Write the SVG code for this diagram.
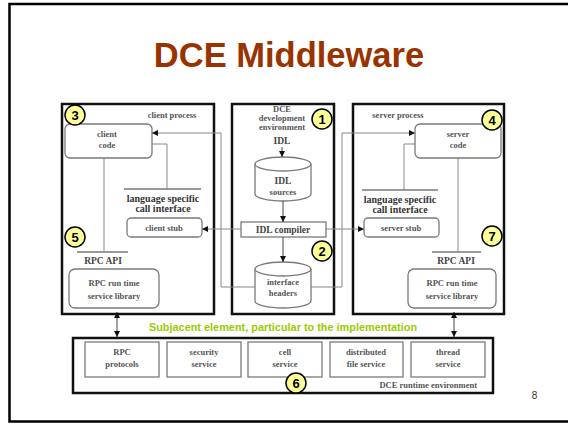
<svg xmlns="http://www.w3.org/2000/svg" width="568" height="424" viewBox="0 0 568 424">
  <defs>
    <marker id="tip" viewBox="0 0 6 6" refX="6" refY="3" markerWidth="6" markerHeight="6" orient="auto" markerUnits="userSpaceOnUse">
      <path d="M0,0 L6,3 L0,6 Z" fill="#111"/>
    </marker>
    <marker id="tail" viewBox="0 0 6 6" refX="0" refY="3" markerWidth="6" markerHeight="6" orient="auto" markerUnits="userSpaceOnUse">
      <path d="M6,0 L0,3 L6,6 Z" fill="#111"/>
    </marker>
    <style>
      .frame { fill: none; stroke: #000; stroke-width: 2.5; }
      .proc { fill: none; stroke: #111; stroke-width: 2.5; }
      .box { fill: #fff; stroke: #7a7a7a; stroke-width: 1.3; }
      .bar { stroke: #777; stroke-width: 1.3; }
      .wire { fill: none; stroke: #888; stroke-width: 1; }
      .link { fill: none; stroke: #444; stroke-width: 1; }
      .lbl { font-family: "Liberation Serif", "Times New Roman", serif; font-weight: bold; font-size: 8.5px; fill: #555; text-anchor: middle; }
      .big { font-size: 10px; fill: #333; }
      .mid { font-size: 9.5px; fill: #444; }
      .num circle { fill: #ffff99; stroke: #000; stroke-width: 1.5; }
      .num text { font-family: "Liberation Sans", Arial, sans-serif; font-weight: bold; font-size: 13px; fill: #000; text-anchor: middle; }
    </style>
  </defs>

  <!-- slide frame -->
  <rect class="frame" x="9.5" y="4" width="600" height="417.5"/>

  <text x="289" y="67" font-family="'Liberation Sans', Arial, sans-serif" font-weight="bold" font-size="34.5" fill="#993300" text-anchor="middle">DCE Middleware</text>

  <!-- client process -->
  <g id="client-process">
    <rect class="proc" x="62" y="104" width="152" height="210"/>
    <text class="lbl" x="172" y="118">client process</text>
    <line class="bar" x1="77" y1="252" x2="128" y2="252"/>
    <line class="bar" x1="124" y1="189" x2="201" y2="189"/>
    <path class="wire" d="M104,158 V252 M152,144 H167 V189"/>
    <text class="lbl big" x="163" y="202">language specific</text>
    <text class="lbl big" x="163" y="212">call interface</text>
    <text class="lbl mid" x="103" y="264">RPC API</text>
  </g>
  <g id="client-code">
    <rect class="box" x="65" y="124" width="87" height="34" rx="5"/>
    <text class="lbl" x="107" y="137">client</text>
    <text class="lbl" x="107" y="148">code</text>
  </g>
  <g id="client-stub">
    <rect class="box" x="127" y="218" width="75" height="19" rx="4"/>
    <text class="lbl" x="164" y="231">client stub</text>
  </g>
  <g id="client-rpc-runtime">
    <rect class="box" x="69" y="269" width="90" height="39" rx="6"/>
    <text class="lbl" x="114" y="286">RPC run time</text>
    <text class="lbl" x="114" y="299">service library</text>
  </g>

  <!-- development environment -->
  <g id="dce-development">
    <rect class="proc" x="232" y="104" width="102" height="210"/>
    <text class="lbl" x="282" y="112">DCE</text>
    <text class="lbl" x="282" y="121">development</text>
    <text class="lbl" x="282" y="130">environment</text>
    <text class="lbl mid" x="282" y="144">IDL</text>
  </g>
  <g id="idl-sources">
    <path class="box" d="M255,164 V194 A28,7 0 0 0 311,194 V164"/>
    <ellipse class="box" cx="283" cy="164" rx="28" ry="7"/>
    <text class="lbl mid" x="283" y="184">IDL</text>
    <text class="lbl" x="283" y="195">sources</text>
  </g>
  <g id="idl-compiler">
    <rect class="box" x="241" y="222" width="85" height="15"/>
    <text class="lbl mid" x="283" y="233">IDL compiler</text>
  </g>
  <g id="interface-headers">
    <path class="box" d="M255,269 V301 A28,7 0 0 0 311,301 V269"/>
    <ellipse class="box" cx="283" cy="269" rx="28" ry="7"/>
    <text class="lbl" x="283" y="285">interface</text>
    <text class="lbl" x="283" y="296">headers</text>
  </g>

  <!-- server process -->
  <g id="server-process">
    <rect class="proc" x="353" y="104" width="151" height="210"/>
    <text class="lbl" x="398" y="118">server process</text>
    <line class="bar" x1="362" y1="190" x2="438" y2="190"/>
    <line class="bar" x1="432" y1="252" x2="481" y2="252"/>
    <path class="wire" d="M458,158 V252 M415,144 H404 V190"/>
    <text class="lbl big" x="400" y="203">language specific</text>
    <text class="lbl big" x="400" y="213">call interface</text>
    <text class="lbl mid" x="456" y="264">RPC API</text>
  </g>
  <g id="server-code">
    <rect class="box" x="415" y="124" width="86" height="34" rx="5"/>
    <text class="lbl" x="458" y="137">server</text>
    <text class="lbl" x="458" y="148">code</text>
  </g>
  <g id="server-stub">
    <rect class="box" x="364" y="218" width="75" height="19" rx="4"/>
    <text class="lbl" x="401" y="231">server stub</text>
  </g>
  <g id="server-rpc-runtime">
    <rect class="box" x="408" y="269" width="88" height="39" rx="6"/>
    <text class="lbl" x="452" y="286">RPC run time</text>
    <text class="lbl" x="452" y="299">service library</text>
  </g>

  <!-- runtime environment -->
  <g id="dce-runtime">
    <rect class="proc" x="73" y="338" width="420" height="55"/>
    <text class="lbl" x="477" y="388" style="text-anchor:end">DCE runtime environment</text>
  </g>
  <g id="rpc-protocols">
    <rect class="box" x="85" y="342" width="74" height="35"/>
    <text class="lbl" x="122" y="355">RPC</text>
    <text class="lbl" x="122" y="367">protocols</text>
  </g>
  <g id="security-service">
    <rect class="box" x="167" y="342" width="74" height="35"/>
    <text class="lbl" x="204" y="355">security</text>
    <text class="lbl" x="204" y="367">service</text>
  </g>
  <g id="cell-service">
    <rect class="box" x="248" y="342" width="74" height="35"/>
    <text class="lbl" x="285" y="355">cell</text>
    <text class="lbl" x="285" y="367">service</text>
  </g>
  <g id="distributed-file-service">
    <rect class="box" x="330" y="342" width="73" height="35"/>
    <text class="lbl" x="366" y="355">distributed</text>
    <text class="lbl" x="366" y="367">file service</text>
  </g>
  <g id="thread-service">
    <rect class="box" x="411" y="342" width="74" height="35"/>
    <text class="lbl" x="448" y="355">thread</text>
    <text class="lbl" x="448" y="367">service</text>
  </g>

  <text x="283" y="331" font-family="'Liberation Sans', Arial, sans-serif" font-weight="bold" font-size="10.9" fill="#99cc00" text-anchor="middle">Subjacent element, particular to the implementation</text>

  <!-- connectors -->
  <g id="connectors">
    <line class="link" x1="282" y1="147" x2="282" y2="157" marker-end="url(#tip)"/>
    <line class="link" x1="283" y1="201" x2="283" y2="222" marker-end="url(#tip)"/>
    <line class="link" x1="283" y1="237" x2="283" y2="262" marker-end="url(#tip)"/>
    <line class="wire" x1="241" y1="229" x2="202" y2="229" marker-end="url(#tip)"/>
    <line class="wire" x1="326" y1="229" x2="364" y2="229" marker-end="url(#tip)"/>
    <path class="wire" d="M255,287 H221 V133 H152" marker-end="url(#tip)"/>
    <path class="wire" d="M311,287 H342 V133 H415" marker-end="url(#tip)"/>
    <line class="link" x1="117" y1="312" x2="117" y2="337" marker-start="url(#tail)" marker-end="url(#tip)"/>
    <line class="link" x1="454" y1="312" x2="454" y2="337" marker-start="url(#tail)" marker-end="url(#tip)"/>
  </g>

  <!-- numbered callouts -->
  <g id="n1" class="num"><circle cx="322" cy="119" r="10"/><text x="322" y="124">1</text></g>
  <g id="n2" class="num"><circle cx="322" cy="251" r="10"/><text x="322" y="256">2</text></g>
  <g id="n3" class="num"><circle cx="75" cy="115" r="10"/><text x="75" y="120">3</text></g>
  <g id="n4" class="num"><circle cx="492" cy="120" r="10"/><text x="492" y="125">4</text></g>
  <g id="n5" class="num"><circle cx="75" cy="237" r="10"/><text x="75" y="242">5</text></g>
  <g id="n6" class="num"><circle cx="296" cy="383" r="10"/><text x="296" y="388">6</text></g>
  <g id="n7" class="num"><circle cx="492" cy="236" r="10"/><text x="492" y="241">7</text></g>

  <text x="534.5" y="399" font-family="'Liberation Sans', Arial, sans-serif" font-size="10" fill="#333" text-anchor="middle">8</text>
</svg>
